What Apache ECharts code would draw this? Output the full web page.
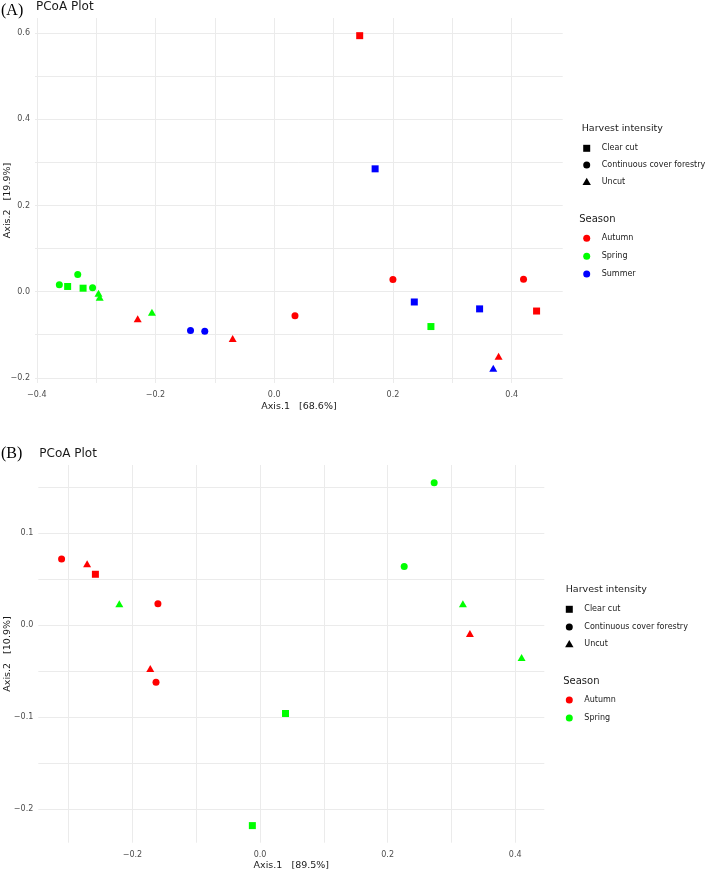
<!DOCTYPE html>
<html>
<head>
<meta charset="utf-8">
<script src="https://cdn.jsdelivr.net/npm/echarts@6/dist/echarts.min.js"></script>
<style>
html,body{margin:0;padding:0;background:#fff;}
#chart{width:709px;height:874px;}
</style>
</head>
<body>
<div id="chart"></div>
<script>
// ---------- Panel A data (Axis.1, Axis.2) ----------
const A_autumn_clear = [[0.144,0.594],[0.442,-0.045]];
const A_autumn_ccf   = [[0.035,-0.056],[0.200,0.028],[0.420,0.029]];
const A_autumn_uncut = [[-0.230,-0.063],[-0.070,-0.109],[0.378,-0.150]];
const A_spring_clear = [[-0.348,0.012],[-0.322,0.008],[0.264,-0.081]];
const A_spring_ccf   = [[-0.362,0.016],[-0.331,0.040],[-0.306,0.009]];
const A_spring_uncut = [[-0.296,-0.004],[-0.294,-0.013],[-0.206,-0.048]];
const A_summer_clear = [[0.170,0.285],[0.236,-0.024],[0.346,-0.040]];
const A_summer_ccf   = [[-0.141,-0.090],[-0.117,-0.092]];
const A_summer_uncut = [[0.369,-0.178]];

// ---------- Panel B data ----------
const B_autumn_clear = [[-0.258,0.0555]];
const B_autumn_ccf   = [[-0.311,0.072],[-0.160,0.0235],[-0.163,-0.062]];
const B_autumn_uncut = [[-0.271,0.067],[-0.172,-0.047],[0.329,-0.009]];
const B_spring_clear = [[0.040,-0.096],[-0.012,-0.218]];
const B_spring_ccf   = [[0.273,0.155],[0.226,0.064]];
const B_spring_uncut = [[-0.2205,0.0235],[0.318,0.0235],[0.410,-0.035]];

// ---------- Axis ticks ----------
const A_xGrid  = [-0.4,-0.3,-0.2,-0.1,0,0.1,0.2,0.3,0.4];
const A_xTicks = [-0.4,-0.2,0,0.2,0.4];
const A_yGrid  = [-0.2,-0.1,0,0.1,0.2,0.3,0.4,0.5,0.6];
const A_yTicks = [-0.2,0,0.2,0.4,0.6];
const B_xGrid  = [-0.3,-0.2,-0.1,0,0.1,0.2,0.3,0.4];
const B_xTicks = [-0.2,0,0.2,0.4];
const B_yGrid  = [-0.2,-0.15,-0.1,-0.05,0,0.05,0.1,0.15];
const B_yTicks = [-0.2,-0.1,0,0.1];

const harvestLabels = ['Clear cut','Continuous cover forestry','Uncut'];
const seasonA = ['Autumn','Spring','Summer'];
const seasonB = ['Autumn','Spring'];
const titleA = 'PCoA Plot', titleB = 'PCoA Plot';
const xTitleA = 'Axis.1   [68.6%]', yTitleA = 'Axis.2   [19.9%]';
const xTitleB = 'Axis.1   [89.5%]', yTitleB = 'Axis.2   [10.9%]';

const COL = {Autumn:'#ff0000', Spring:'#00ff00', Summer:'#0000ff'};
const SYM = {clear:'rect', ccf:'circle', uncut:'triangle'};
const SIZE = {clear:7, ccf:7, uncut:[8,7]};
const FONT = 'DejaVu Sans';

function fmt(v){ const s = Math.abs(v) < 1e-9 ? '0.0' : v.toFixed(1); return s.replace('-', '\u2212'); }

function mkX(idx, min, max, grid, ticks){
  return {type:'value', gridIndex:idx, min:min, max:max,
    axisLine:{show:false}, axisTick:{show:false, customValues:grid},
    splitLine:{show:true, lineStyle:{color:'#ebebeb', width:1}},
    axisLabel:{customValues:ticks, formatter:fmt, color:'#4d4d4d', fontFamily:FONT, fontSize:8, margin:8}};
}
function mkY(idx, min, max, grid, ticks){
  return {type:'value', gridIndex:idx, min:min, max:max,
    axisLine:{show:false}, axisTick:{show:false, customValues:grid},
    splitLine:{show:true, lineStyle:{color:'#ebebeb', width:1}},
    axisLabel:{customValues:ticks, formatter:fmt, color:'#4d4d4d', fontFamily:FONT, fontSize:8, margin:5}};
}
function mkS(idx, data, season, kind){
  return {type:'scatter', xAxisIndex:idx, yAxisIndex:idx, data:data, symbol:SYM[kind], symbolSize:SIZE[kind],
    itemStyle:{color:COL[season], opacity:1}, silent:true, animation:false, z:5};
}

const series = [
  mkS(0,A_autumn_clear,'Autumn','clear'), mkS(0,A_autumn_ccf,'Autumn','ccf'), mkS(0,A_autumn_uncut,'Autumn','uncut'),
  mkS(0,A_spring_clear,'Spring','clear'), mkS(0,A_spring_ccf,'Spring','ccf'), mkS(0,A_spring_uncut,'Spring','uncut'),
  mkS(0,A_summer_clear,'Summer','clear'), mkS(0,A_summer_ccf,'Summer','ccf'), mkS(0,A_summer_uncut,'Summer','uncut'),
  mkS(1,B_autumn_clear,'Autumn','clear'), mkS(1,B_autumn_ccf,'Autumn','ccf'), mkS(1,B_autumn_uncut,'Autumn','uncut'),
  mkS(1,B_spring_clear,'Spring','clear'), mkS(1,B_spring_ccf,'Spring','ccf'), mkS(1,B_spring_uncut,'Spring','uncut')
];

function txt(x,y,text,size,opts){
  return Object.assign({type:'text', x:x, y:y, silent:true,
    style:Object.assign({text:text, fontFamily:FONT, fontSize:size, fill:'#1a1a1a', textVerticalAlign:'middle', textAlign:'left'}, (opts&&opts.style)||{})},
    opts&&opts.el||{});
}
function legendBlock(x0, yTitle, items, sx, tx, seasons, yS, yItems){
  const g = [];
  g.push(txt(x0, yTitle, 'Harvest intensity', 9.5));
  const shapes = ['rect','circle','triangle'];
  items.forEach((it,i)=>{
    const y = yItems[i];
    if (i===0) g.push({type:'rect', silent:true, shape:{x:sx-3.5,y:y-3.5,width:7,height:7}, style:{fill:'#000'}});
    if (i===1) g.push({type:'circle', silent:true, shape:{cx:sx,cy:y,r:3.5}, style:{fill:'#000'}});
    if (i===2) g.push({type:'polygon', silent:true, shape:{points:[[sx,y-4],[sx+4.2,y+3.3],[sx-4.2,y+3.3]]}, style:{fill:'#000'}});
    g.push(txt(tx, y, it, 8));
  });
  g.push(txt(x0-2.5, yS.title, 'Season', 10));
  seasons.forEach((s,i)=>{
    const y = yS.items[i];
    g.push({type:'circle', silent:true, shape:{cx:sx,cy:y,r:3.5}, style:{fill:COL[s]}});
    g.push(txt(tx, y, s, 8));
  });
  return g;
}

const graphics = [
  txt(1, 10.5, '(A)', 16, {style:{fontFamily:'Liberation Serif', fill:'#000'}}),
  txt(36, 7, titleA, 12),
  txt(298.9, 406.5, xTitleA, 9.5, {style:{textAlign:'center'}}),
  {type:'text', x:7.5, y:200.5, rotation:Math.PI/2, silent:true,
    style:{text:yTitleA, fontFamily:FONT, fontSize:9.5, fill:'#1a1a1a', textAlign:'center', textVerticalAlign:'middle'}},
  txt(1, 454, '(B)', 16, {style:{fontFamily:'Liberation Serif', fill:'#000'}}),
  txt(39.3, 453.5, titleB, 12),
  txt(291.3, 866, xTitleB, 9.5, {style:{textAlign:'center'}}),
  {type:'text', x:7.5, y:654, rotation:Math.PI/2, silent:true,
    style:{text:yTitleB, fontFamily:FONT, fontSize:9.5, fill:'#1a1a1a', textAlign:'center', textVerticalAlign:'middle'}}
].concat(
  legendBlock(581.7, 129, harvestLabels, 586.7, 601.7, seasonA, {title:219, items:[238.3,256.3,274]}, [148.3,165,181.7]),
  legendBlock(565.7, 590, harvestLabels, 569.3, 584.3, seasonB, {title:681, items:[700,718]}, [609.3,627,644])
);

const chart = echarts.init(document.getElementById('chart'), null, {renderer:'canvas'});
chart.setOption({
  animation:false,
  backgroundColor:'#ffffff',
  grid:[
    {left:35, top:18, width:527.7, height:365},
    {left:38.3, top:465, width:506, height:377.7}
  ],
  xAxis:[ mkX(0,-0.403,0.486,A_xGrid,A_xTicks), mkX(1,-0.3475,0.4456,B_xGrid,B_xTicks) ],
  yAxis:[ mkY(0,-0.212,0.635,A_yGrid,A_yTicks), mkY(1,-0.2366,0.1744,B_yGrid,B_yTicks) ],
  series:series,
  graphic:graphics
});
</script>
</body>
</html>
